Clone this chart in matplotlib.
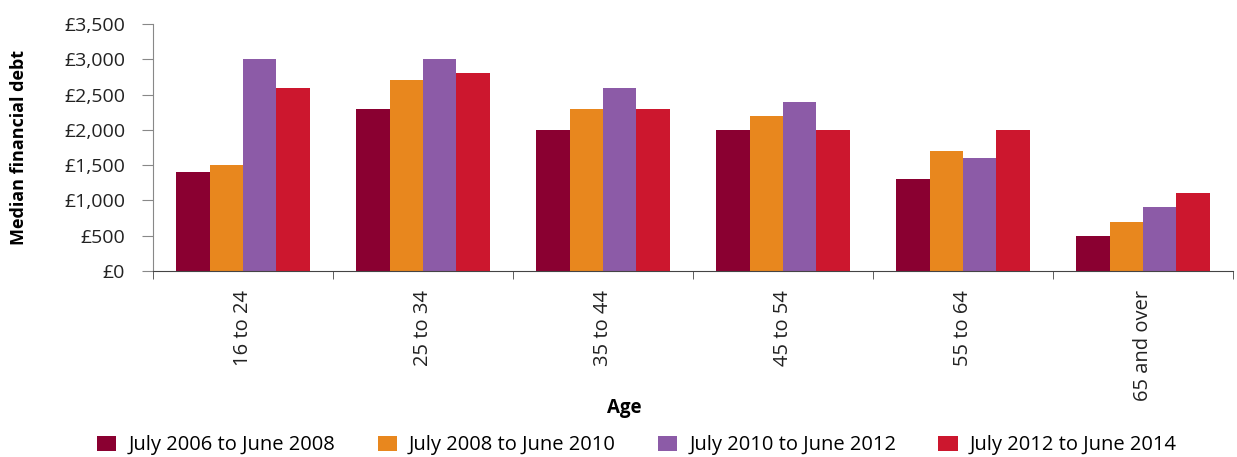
import numpy as np
import matplotlib.pyplot as plt
from matplotlib.ticker import FuncFormatter, FixedLocator

plt.rcParams['font.family'] = ['Open Sans', 'DejaVu Sans']

ages = ['16 to 24', '25 to 34', '35 to 44', '45 to 54', '55 to 64', '65 and over']
periods = ['July 2006 to June 2008', 'July 2008 to June 2010',
           'July 2010 to June 2012', 'July 2012 to June 2014']
debt_0608 = [1400, 2300, 2000, 2000, 1300, 500]
debt_0810 = [1500, 2700, 2300, 2200, 1700, 700]
debt_1012 = [3000, 3000, 2600, 2400, 1600, 900]
debt_1214 = [2600, 2800, 2300, 2000, 2000, 1100]
colors = ['#8a0031', '#e8871e', '#8c5ba7', '#cc172e']

series = [debt_0608, debt_0810, debt_1012, debt_1214]

fig = plt.figure(figsize=(12.37, 4.57), dpi=100)
ax = fig.add_axes([0.1237, 0.407, 0.873, 0.5405])

x = np.arange(len(ages))
w = 0.185
for i, (vals, col, lab) in enumerate(zip(series, colors, periods)):
    ax.bar(x + (i - 1.5) * w, vals, width=w, color=col, label=lab, linewidth=0)

ax.set_xlim(-0.5, len(ages) - 0.5)
ax.set_ylim(0, 3500)
ax.set_yticks(np.arange(0, 3501, 500))
ax.yaxis.set_major_formatter(FuncFormatter(lambda v, p: '£{:,.0f}'.format(v)))
ax.set_xticks(x)
ax.set_xticklabels(ages, rotation=90, fontsize=14.5, color='#222222')
ax.xaxis.set_minor_locator(FixedLocator(np.arange(-0.5, len(ages), 1)))
ax.tick_params(axis='x', which='major', length=0, pad=14)
ax.tick_params(axis='x', which='minor', length=6, color='#444444')
ax.tick_params(axis='y', length=8, color='#888888', labelsize=14, labelcolor='#222222', pad=12)

for s in ['top', 'right']:
    ax.spines[s].set_visible(False)
ax.spines['left'].set_color('#888888')
ax.spines['bottom'].set_color('#444444')

ax.set_ylabel('Median financial debt', fontsize=13, fontweight='bold')
ax.yaxis.set_label_coords(-0.116, 0.5)
fig.text(0.505, 0.107, 'Age', fontsize=13.5, fontweight='bold', ha='center', va='center')

fig.legend(loc='lower left', bbox_to_anchor=(0.064, -0.036), ncol=4, frameon=False,
           fontsize=14.5, handlelength=0.95, handleheight=0.75, handletextpad=0.6,
           columnspacing=2.1)

fig.savefig('out.png', dpi=100)
